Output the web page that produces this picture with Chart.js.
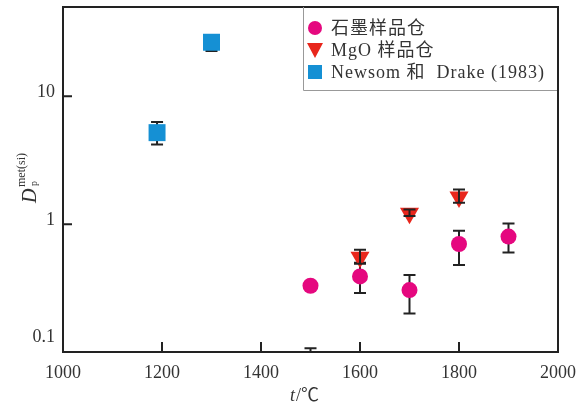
<!DOCTYPE html>
<html>
<head>
<meta charset="utf-8">
<script src="https://cdn.jsdelivr.net/npm/chart.js@4"></script>
<style>
  html, body { margin: 0; padding: 0; background: #fff; }
  #box { width: 581px; height: 412px; }
</style>
</head>
<body>
<div id="box"><canvas id="dp" width="581" height="412"></canvas></div>
<script>
// graphite capsule
const graphiteT  = [1500, 1600, 1700, 1800, 1900];
const graphiteD  = [0.33, 0.39, 0.305, 0.70, 0.80];
const graphiteLo = [null, 0.29, 0.20, 0.48, 0.60];
const graphiteHi = [null, 0.50, 0.40, 0.89, 1.01];

// MgO capsule (1500 point lies below the axis, only its upper cap shows)
const mgoT  = [1500, 1600, 1700, 1800];
const mgoD  = [0.06, 0.55, 1.22, 1.63];
const mgoLo = [0.04, 0.49, 1.16, 1.47];
const mgoHi = [0.107, 0.63, 1.30, 1.87];

// Newsom & Drake (1983)
const ndT  = [1190, 1300];
const ndD  = [5.2, 26.5];
const ndLo = [4.2, 22.6];
const ndHi = [6.3, 27.0];

const legendLabels = ['石墨样品仓', 'MgO 样品仓', 'Newsom 和  Drake (1983)'];
const yTicks = [0.1, 1, 10];

const serif = '"Liberation Serif", "Noto Sans CJK SC", serif';

function pts(xs, ys) {
  return xs.map((x, i) => ({ x: x, y: ys[i] }));
}

const errSets = [
  { ds: 0, t: graphiteT, lo: graphiteLo, hi: graphiteHi, top: false },
  { ds: 1, t: mgoT, lo: mgoLo, hi: mgoHi, top: true },
  { ds: 2, t: ndT, lo: ndLo, hi: ndHi, top: false }
];

function drawErr(chart, onTop) {
  const { ctx, chartArea: a, scales: { x, y } } = chart;
  ctx.save();
  ctx.beginPath();
  ctx.rect(a.left, a.top, a.right - a.left, a.bottom - a.top);
  ctx.clip();
  ctx.strokeStyle = '#222';
  ctx.lineWidth = 2;
  errSets.forEach(s => {
    if (s.top !== onTop) return;
    s.t.forEach((t, i) => {
      if (s.lo[i] == null) return;
      const px = x.getPixelForValue(t);
      const y1 = y.getPixelForValue(s.lo[i]);
      const y2 = y.getPixelForValue(s.hi[i]);
      ctx.beginPath();
      ctx.moveTo(px, y1); ctx.lineTo(px, y2);
      ctx.moveTo(px - 6, y1); ctx.lineTo(px + 6, y1);
      ctx.moveTo(px - 6, y2); ctx.lineTo(px + 6, y2);
      ctx.stroke();
    });
  });
  ctx.restore();
}

const errorBars = {
  id: 'errorBars',
  beforeDatasetsDraw(chart) { drawErr(chart, false); },
  afterDatasetsDraw(chart) { drawErr(chart, true); }
};

const frame = {
  id: 'frame',
  afterDraw(chart) {
    const { ctx, chartArea: a, scales: { x, y } } = chart;
    ctx.save();
    ctx.strokeStyle = '#222';
    ctx.lineWidth = 2;
    // inward ticks
    ctx.beginPath();
    [1200, 1400, 1600, 1800].forEach(v => {
      const px = x.getPixelForValue(v);
      ctx.moveTo(px, a.bottom); ctx.lineTo(px, a.bottom - 10);
    });
    [1, 10].forEach(v => {
      const py = y.getPixelForValue(v);
      ctx.moveTo(a.left, py); ctx.lineTo(a.left + 9, py);
    });
    ctx.stroke();
    ctx.strokeRect(a.left, a.top, a.right - a.left, a.bottom - a.top);

    // legend box
    const lx = 303, ly = a.top, lb = 90;
    ctx.fillStyle = '#fff';
    ctx.fillRect(lx, ly + 1, a.right - lx - 1, lb - ly - 1);
    ctx.strokeStyle = '#999';
    ctx.lineWidth = 1;
    ctx.beginPath();
    ctx.moveTo(lx + 0.5, ly); ctx.lineTo(lx + 0.5, lb + 0.5); ctx.lineTo(a.right - 1, lb + 0.5);
    ctx.stroke();

    const rows = [28, 50, 72];
    chart.data.datasets.forEach((d, i) => {
      const cy = rows[i], cx = 315;
      ctx.fillStyle = d.backgroundColor;
      ctx.beginPath();
      if (d.pointStyle === 'circle') {
        ctx.arc(cx, cy, 7, 0, Math.PI * 2);
      } else if (d.pointStyle === 'triangle') {
        ctx.moveTo(cx - 8, cy - 7); ctx.lineTo(cx + 8, cy - 7); ctx.lineTo(cx, cy + 8);
        ctx.closePath();
      } else {
        ctx.rect(cx - 7, cy - 7, 14, 14);
      }
      ctx.fill();
      ctx.fillStyle = '#333';
      ctx.font = '18px ' + serif;
      ctx.letterSpacing = '1px';
      ctx.textBaseline = 'middle';
      ctx.textAlign = 'left';
      ctx.fillText(legendLabels[i], 331, cy + 1);
      ctx.letterSpacing = '0px';
    });

    // axis titles
    ctx.fillStyle = '#333';
    ctx.textBaseline = 'alphabetic';
    ctx.font = 'italic 18px ' + serif;
    ctx.fillText('t', 290, 401);
    ctx.font = '18px ' + serif;
    ctx.fillText('/℃', 296, 401);

    ctx.translate(36, 203);
    ctx.rotate(-Math.PI / 2);
    ctx.font = 'italic 20px ' + serif;
    ctx.fillText('D', 0, 0);
    ctx.font = '12px ' + serif;
    ctx.fillText('met(si)', 16, -11);
    ctx.font = '10px ' + serif;
    ctx.fillText('p', 17, 1);
    ctx.restore();
  }
};

const config = {
  type: 'scatter',
  data: {
    datasets: [
      {
        label: legendLabels[0],
        data: pts(graphiteT, graphiteD),
        pointStyle: 'circle',
        pointRadius: 8,
        pointHoverRadius: 8,
        backgroundColor: '#e5087f',
        borderColor: '#e5087f',
        borderWidth: 0
      },
      {
        label: legendLabels[1],
        data: pts(mgoT, mgoD),
        pointStyle: 'triangle',
        pointRotation: 180,
        pointRadius: 11,
        pointHoverRadius: 11,
        backgroundColor: '#e8261c',
        borderColor: '#e8261c',
        borderWidth: 0,
        clip: 0
      },
      {
        label: legendLabels[2],
        data: pts(ndT, ndD),
        pointStyle: 'rect',
        pointRadius: 12,
        pointHoverRadius: 12,
        backgroundColor: '#1590d4',
        borderColor: '#1590d4',
        borderWidth: 0
      }
    ]
  },
  options: {
    responsive: false,
    animation: false,
    layout: { autoPadding: false, padding: { top: 7, right: 23, left: 0, bottom: 0 } },
    plugins: {
      legend: { display: false },
      tooltip: { enabled: false }
    },
    scales: {
      x: {
        type: 'linear',
        min: 1000,
        max: 2000,
        grid: { display: false, drawTicks: false },
        border: { display: false },
        ticks: {
          stepSize: 200,
          padding: 10,
          color: '#333',
          font: { family: serif, size: 18 },
          callback(v) { return String(v); }
        },
        afterFit(s) { s.height = 60; s.paddingLeft = 0; s.paddingRight = 0; }
      },
      y: {
        type: 'logarithmic',
        min: 0.1,
        max: 50,
        grid: { display: false, drawTicks: false },
        border: { display: false },
        afterBuildTicks(s) { s.ticks = yTicks.map(v => ({ value: v })); },
        ticks: {
          padding: 8,
          labelOffset: -4,
          color: '#333',
          font: { family: serif, size: 18 },
          callback(v) { return v === 0.1 ? ['0.1', ''] : String(v); }
        },
        afterFit(s) { s.width = 63; s.paddingTop = 0; s.paddingBottom = 0; }
      }
    }
  },
  plugins: [errorBars, frame]
};

new Chart(document.getElementById('dp'), config);
</script>
</body>
</html>
